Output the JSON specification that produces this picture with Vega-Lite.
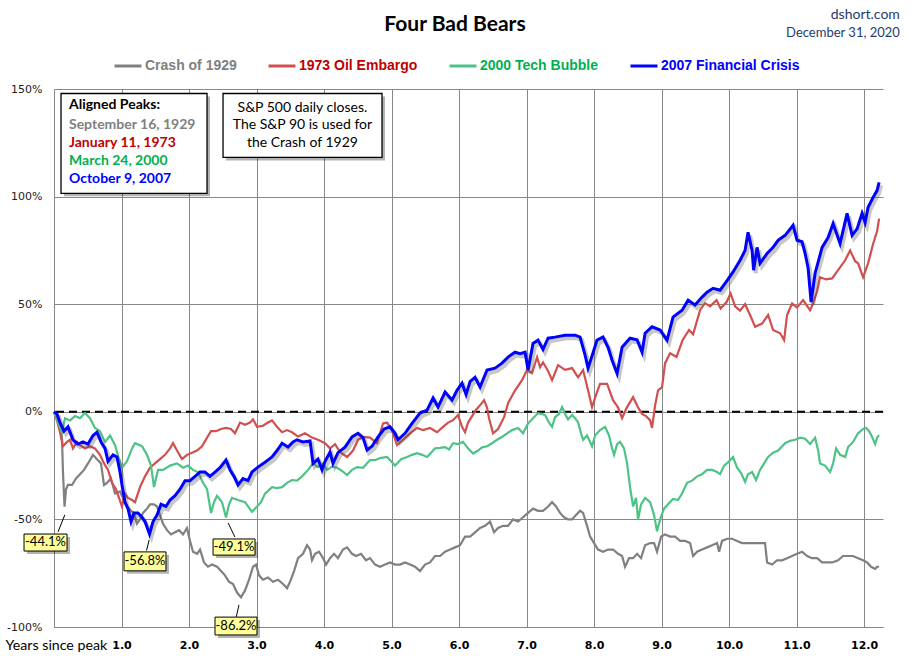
{
"$schema": "https://vega.github.io/schema/vega-lite/v6.json",
"autosize": "none",
"width": 829, "height": 538,
"padding": {"left": 54, "top": 89, "right": 27, "bottom": 34},
"background": "white",
"config": {"view": {"stroke": null}},
"data": {"values": [{}]},
"datasets": {
"g": [{"t":0,"v":0},{"t":0.059,"v":-3},{"t":0.104,"v":-8},{"t":0.119,"v":-13},{"t":0.133,"v":-28},{"t":0.156,"v":-44.1},{"t":0.178,"v":-36},{"t":0.207,"v":-34},{"t":0.267,"v":-34},{"t":0.326,"v":-31},{"t":0.385,"v":-29},{"t":0.444,"v":-27},{"t":0.504,"v":-24},{"t":0.578,"v":-20},{"t":0.637,"v":-22},{"t":0.696,"v":-24},{"t":0.741,"v":-34},{"t":0.785,"v":-33},{"t":0.844,"v":-31},{"t":0.904,"v":-38},{"t":0.978,"v":-37},{"t":1.037,"v":-41},{"t":1.081,"v":-44},{"t":1.141,"v":-46},{"t":1.185,"v":-47},{"t":1.23,"v":-52},{"t":1.274,"v":-50},{"t":1.319,"v":-47},{"t":1.378,"v":-45},{"t":1.422,"v":-43},{"t":1.481,"v":-43},{"t":1.526,"v":-44},{"t":1.57,"v":-48},{"t":1.615,"v":-52},{"t":1.674,"v":-55},{"t":1.733,"v":-57},{"t":1.793,"v":-56},{"t":1.852,"v":-55},{"t":1.911,"v":-57},{"t":1.97,"v":-54},{"t":2.015,"v":-60},{"t":2.059,"v":-65},{"t":2.119,"v":-66},{"t":2.163,"v":-64},{"t":2.222,"v":-70},{"t":2.281,"v":-72},{"t":2.341,"v":-71},{"t":2.415,"v":-72},{"t":2.474,"v":-74},{"t":2.533,"v":-76},{"t":2.593,"v":-79},{"t":2.652,"v":-80},{"t":2.711,"v":-84},{"t":2.77,"v":-86.2},{"t":2.83,"v":-83},{"t":2.889,"v":-78},{"t":2.948,"v":-72},{"t":2.993,"v":-71},{"t":3.037,"v":-76},{"t":3.096,"v":-78},{"t":3.17,"v":-77},{"t":3.244,"v":-79},{"t":3.319,"v":-78},{"t":3.393,"v":-80},{"t":3.452,"v":-82},{"t":3.496,"v":-79},{"t":3.556,"v":-74},{"t":3.615,"v":-68},{"t":3.689,"v":-66},{"t":3.748,"v":-62},{"t":3.793,"v":-64},{"t":3.822,"v":-69},{"t":3.867,"v":-66},{"t":3.926,"v":-65},{"t":3.985,"v":-68},{"t":4.03,"v":-71},{"t":4.089,"v":-68},{"t":4.148,"v":-66},{"t":4.207,"v":-68},{"t":4.281,"v":-64},{"t":4.341,"v":-63},{"t":4.415,"v":-66},{"t":4.474,"v":-67},{"t":4.548,"v":-66},{"t":4.622,"v":-69},{"t":4.681,"v":-68},{"t":4.756,"v":-71},{"t":4.83,"v":-72},{"t":4.904,"v":-71},{"t":4.978,"v":-70},{"t":5.052,"v":-71},{"t":5.126,"v":-71},{"t":5.2,"v":-70},{"t":5.274,"v":-71},{"t":5.348,"v":-72},{"t":5.422,"v":-74},{"t":5.496,"v":-71},{"t":5.57,"v":-70},{"t":5.644,"v":-67},{"t":5.719,"v":-67},{"t":5.793,"v":-65},{"t":5.867,"v":-64},{"t":5.941,"v":-63},{"t":6.015,"v":-62},{"t":6.089,"v":-58},{"t":6.163,"v":-58},{"t":6.237,"v":-56},{"t":6.311,"v":-54},{"t":6.385,"v":-53},{"t":6.459,"v":-51},{"t":6.519,"v":-56},{"t":6.578,"v":-54},{"t":6.652,"v":-53},{"t":6.726,"v":-53},{"t":6.8,"v":-50},{"t":6.874,"v":-51},{"t":6.948,"v":-49},{"t":7.022,"v":-47},{"t":7.096,"v":-45},{"t":7.17,"v":-46},{"t":7.244,"v":-46},{"t":7.319,"v":-44},{"t":7.378,"v":-42},{"t":7.437,"v":-44},{"t":7.496,"v":-47},{"t":7.556,"v":-49},{"t":7.615,"v":-50},{"t":7.674,"v":-50},{"t":7.733,"v":-48},{"t":7.793,"v":-46},{"t":7.837,"v":-47},{"t":7.896,"v":-53},{"t":7.941,"v":-58},{"t":8.0,"v":-61},{"t":8.059,"v":-64},{"t":8.133,"v":-65},{"t":8.207,"v":-64},{"t":8.281,"v":-64},{"t":8.356,"v":-66},{"t":8.415,"v":-67},{"t":8.459,"v":-72},{"t":8.519,"v":-68},{"t":8.578,"v":-68},{"t":8.637,"v":-66},{"t":8.696,"v":-68},{"t":8.756,"v":-62},{"t":8.83,"v":-61},{"t":8.889,"v":-61},{"t":8.933,"v":-65},{"t":8.993,"v":-58},{"t":9.052,"v":-57},{"t":9.126,"v":-58},{"t":9.2,"v":-58},{"t":9.274,"v":-60},{"t":9.348,"v":-60},{"t":9.422,"v":-61},{"t":9.467,"v":-67},{"t":9.526,"v":-65},{"t":9.6,"v":-64},{"t":9.674,"v":-63},{"t":9.748,"v":-62},{"t":9.822,"v":-61},{"t":9.852,"v":-65},{"t":9.896,"v":-60},{"t":9.97,"v":-59},{"t":10.044,"v":-59},{"t":10.119,"v":-60},{"t":10.193,"v":-61},{"t":10.281,"v":-61},{"t":10.37,"v":-61},{"t":10.459,"v":-61},{"t":10.533,"v":-61},{"t":10.563,"v":-70},{"t":10.637,"v":-71},{"t":10.711,"v":-69},{"t":10.785,"v":-69},{"t":10.859,"v":-68},{"t":10.933,"v":-67},{"t":11.007,"v":-66},{"t":11.081,"v":-65},{"t":11.156,"v":-67},{"t":11.23,"v":-68},{"t":11.304,"v":-68},{"t":11.378,"v":-70},{"t":11.452,"v":-70},{"t":11.526,"v":-70},{"t":11.615,"v":-69},{"t":11.689,"v":-67},{"t":11.763,"v":-67},{"t":11.837,"v":-67},{"t":11.911,"v":-68},{"t":11.985,"v":-69},{"t":12.044,"v":-70},{"t":12.104,"v":-72},{"t":12.163,"v":-73},{"t":12.193,"v":-72},{"t":12.222,"v":-72}],
"r": [{"t":0,"v":0},{"t":0.044,"v":-4},{"t":0.089,"v":-9.5},{"t":0.133,"v":-16},{"t":0.193,"v":-14},{"t":0.237,"v":-13},{"t":0.281,"v":-17},{"t":0.341,"v":-14},{"t":0.385,"v":-15.5},{"t":0.459,"v":-17},{"t":0.533,"v":-16},{"t":0.607,"v":-17},{"t":0.681,"v":-20},{"t":0.741,"v":-24},{"t":0.8,"v":-27},{"t":0.859,"v":-33},{"t":0.919,"v":-36},{"t":0.963,"v":-40},{"t":1.007,"v":-44},{"t":1.052,"v":-38},{"t":1.096,"v":-40},{"t":1.156,"v":-41},{"t":1.2,"v":-42},{"t":1.274,"v":-35},{"t":1.348,"v":-30},{"t":1.422,"v":-26},{"t":1.496,"v":-24},{"t":1.57,"v":-22},{"t":1.644,"v":-20},{"t":1.719,"v":-17},{"t":1.763,"v":-14.5},{"t":1.822,"v":-18},{"t":1.896,"v":-22},{"t":1.97,"v":-20},{"t":2.044,"v":-19},{"t":2.119,"v":-18},{"t":2.193,"v":-16},{"t":2.267,"v":-12},{"t":2.326,"v":-9},{"t":2.4,"v":-9},{"t":2.474,"v":-8},{"t":2.548,"v":-7.5},{"t":2.622,"v":-8},{"t":2.681,"v":-10},{"t":2.756,"v":-5},{"t":2.83,"v":-6},{"t":2.904,"v":-5},{"t":2.948,"v":-3.5},{"t":3.007,"v":-7},{"t":3.096,"v":-6.5},{"t":3.17,"v":-5},{"t":3.23,"v":-4},{"t":3.304,"v":-7},{"t":3.378,"v":-9.5},{"t":3.452,"v":-8.5},{"t":3.526,"v":-9.5},{"t":3.615,"v":-11.5},{"t":3.719,"v":-10},{"t":3.822,"v":-12},{"t":3.911,"v":-13},{"t":4.015,"v":-14.6},{"t":4.089,"v":-17},{"t":4.163,"v":-15},{"t":4.237,"v":-18.7},{"t":4.341,"v":-21},{"t":4.43,"v":-18},{"t":4.504,"v":-13},{"t":4.578,"v":-11.7},{"t":4.681,"v":-12},{"t":4.785,"v":-14.6},{"t":4.874,"v":-5.4},{"t":4.933,"v":-5},{"t":5.007,"v":-8.5},{"t":5.081,"v":-15.5},{"t":5.17,"v":-13},{"t":5.274,"v":-10},{"t":5.378,"v":-7.5},{"t":5.467,"v":-8.5},{"t":5.57,"v":-7.5},{"t":5.674,"v":-9.5},{"t":5.763,"v":-7},{"t":5.837,"v":-5},{"t":5.911,"v":-3.9},{"t":5.985,"v":-1.5},{"t":6.044,"v":-7},{"t":6.089,"v":-9.5},{"t":6.133,"v":-5},{"t":6.193,"v":-2},{"t":6.252,"v":1},{"t":6.311,"v":3},{"t":6.37,"v":5.4},{"t":6.415,"v":2},{"t":6.444,"v":-3},{"t":6.504,"v":-10},{"t":6.578,"v":-8},{"t":6.667,"v":-2.5},{"t":6.726,"v":4},{"t":6.83,"v":10},{"t":6.933,"v":14.7},{"t":7.007,"v":19.4},{"t":7.081,"v":18},{"t":7.156,"v":25.4},{"t":7.2,"v":20.7},{"t":7.244,"v":23},{"t":7.319,"v":19},{"t":7.378,"v":14.7},{"t":7.467,"v":21.7},{"t":7.57,"v":19.5},{"t":7.674,"v":20.3},{"t":7.763,"v":16},{"t":7.837,"v":19.4},{"t":7.911,"v":10},{"t":7.97,"v":2.2},{"t":8.03,"v":8},{"t":8.089,"v":13},{"t":8.193,"v":13},{"t":8.281,"v":5.4},{"t":8.356,"v":2},{"t":8.415,"v":-2.9},{"t":8.489,"v":2.2},{"t":8.578,"v":6.8},{"t":8.652,"v":2},{"t":8.711,"v":-1},{"t":8.77,"v":-2},{"t":8.83,"v":-4},{"t":8.859,"v":-7.5},{"t":8.904,"v":3},{"t":8.948,"v":10},{"t":9.007,"v":11.5},{"t":9.052,"v":22.6},{"t":9.126,"v":27.2},{"t":9.222,"v":25.5},{"t":9.311,"v":33.3},{"t":9.407,"v":38},{"t":9.467,"v":36},{"t":9.57,"v":47.2},{"t":9.644,"v":50.5},{"t":9.719,"v":49},{"t":9.815,"v":51.9},{"t":9.874,"v":48},{"t":9.963,"v":51},{"t":10.022,"v":55},{"t":10.089,"v":49},{"t":10.163,"v":47},{"t":10.237,"v":50},{"t":10.311,"v":45},{"t":10.385,"v":39.5},{"t":10.489,"v":41},{"t":10.578,"v":45},{"t":10.652,"v":38},{"t":10.756,"v":36.5},{"t":10.815,"v":33.3},{"t":10.859,"v":45},{"t":10.933,"v":50.3},{"t":11.007,"v":48.5},{"t":11.096,"v":51.9},{"t":11.2,"v":47.2},{"t":11.244,"v":50.3},{"t":11.304,"v":56},{"t":11.348,"v":62.5},{"t":11.437,"v":61.5},{"t":11.526,"v":62},{"t":11.615,"v":65.8},{"t":11.719,"v":70.4},{"t":11.793,"v":75},{"t":11.867,"v":70},{"t":11.911,"v":69},{"t":11.985,"v":62.5},{"t":12.059,"v":69},{"t":12.133,"v":78},{"t":12.193,"v":84},{"t":12.222,"v":89.8}],
"gr": [{"t":0,"v":0},{"t":0.059,"v":-5},{"t":0.119,"v":-9.5},{"t":0.163,"v":-3},{"t":0.237,"v":-4},{"t":0.311,"v":-2},{"t":0.385,"v":-3},{"t":0.459,"v":-0.6},{"t":0.533,"v":-3},{"t":0.607,"v":-7.5},{"t":0.681,"v":-9},{"t":0.756,"v":-14},{"t":0.83,"v":-11},{"t":0.904,"v":-15.5},{"t":0.963,"v":-22},{"t":1.007,"v":-26},{"t":1.081,"v":-23},{"t":1.156,"v":-17},{"t":1.2,"v":-14.6},{"t":1.304,"v":-16},{"t":1.378,"v":-20},{"t":1.437,"v":-25},{"t":1.481,"v":-35},{"t":1.541,"v":-27},{"t":1.615,"v":-27},{"t":1.719,"v":-25},{"t":1.822,"v":-24},{"t":1.911,"v":-26},{"t":1.985,"v":-25},{"t":2.059,"v":-27},{"t":2.133,"v":-28},{"t":2.207,"v":-33},{"t":2.267,"v":-36},{"t":2.326,"v":-47},{"t":2.37,"v":-42},{"t":2.415,"v":-39},{"t":2.489,"v":-42},{"t":2.548,"v":-49.1},{"t":2.593,"v":-43},{"t":2.637,"v":-40},{"t":2.726,"v":-41},{"t":2.83,"v":-42},{"t":2.933,"v":-46.5},{"t":3.007,"v":-44},{"t":3.067,"v":-42},{"t":3.126,"v":-38},{"t":3.23,"v":-35},{"t":3.304,"v":-35.5},{"t":3.378,"v":-35},{"t":3.452,"v":-33},{"t":3.526,"v":-31.7},{"t":3.6,"v":-32},{"t":3.674,"v":-30},{"t":3.763,"v":-27},{"t":3.837,"v":-24},{"t":3.911,"v":-25.7},{"t":3.985,"v":-24},{"t":4.044,"v":-27},{"t":4.119,"v":-25.5},{"t":4.193,"v":-26},{"t":4.267,"v":-27.5},{"t":4.341,"v":-29.4},{"t":4.415,"v":-27},{"t":4.489,"v":-25.7},{"t":4.578,"v":-26},{"t":4.681,"v":-22.4},{"t":4.756,"v":-22.5},{"t":4.83,"v":-21.5},{"t":4.933,"v":-21},{"t":4.993,"v":-23},{"t":5.052,"v":-25},{"t":5.141,"v":-22},{"t":5.23,"v":-21},{"t":5.304,"v":-20},{"t":5.378,"v":-19.2},{"t":5.452,"v":-20},{"t":5.526,"v":-21},{"t":5.585,"v":-19},{"t":5.644,"v":-17},{"t":5.719,"v":-16.8},{"t":5.793,"v":-16.4},{"t":5.852,"v":-17.5},{"t":5.911,"v":-14.6},{"t":5.985,"v":-15},{"t":6.059,"v":-14},{"t":6.133,"v":-17},{"t":6.207,"v":-19.4},{"t":6.281,"v":-18},{"t":6.341,"v":-16.5},{"t":6.415,"v":-16},{"t":6.489,"v":-14.6},{"t":6.563,"v":-13},{"t":6.637,"v":-11.7},{"t":6.711,"v":-10},{"t":6.785,"v":-8.5},{"t":6.874,"v":-7.5},{"t":6.948,"v":-10},{"t":7.022,"v":-5.4},{"t":7.096,"v":-3},{"t":7.17,"v":-0.6},{"t":7.23,"v":-1},{"t":7.274,"v":-1.5},{"t":7.333,"v":-5},{"t":7.378,"v":-7},{"t":7.422,"v":-2.5},{"t":7.481,"v":-1},{"t":7.526,"v":2.2},{"t":7.57,"v":-1},{"t":7.615,"v":-3.5},{"t":7.674,"v":-1.5},{"t":7.719,"v":-3},{"t":7.763,"v":-4.8},{"t":7.807,"v":-10},{"t":7.837,"v":-13},{"t":7.896,"v":-11},{"t":7.941,"v":-14},{"t":7.97,"v":-16},{"t":8.015,"v":-11},{"t":8.089,"v":-8.5},{"t":8.163,"v":-7},{"t":8.222,"v":-11},{"t":8.267,"v":-17},{"t":8.296,"v":-20},{"t":8.341,"v":-15},{"t":8.385,"v":-14},{"t":8.444,"v":-17},{"t":8.489,"v":-24},{"t":8.533,"v":-35},{"t":8.578,"v":-44},{"t":8.622,"v":-40},{"t":8.652,"v":-50},{"t":8.696,"v":-43},{"t":8.756,"v":-40},{"t":8.83,"v":-42},{"t":8.889,"v":-48},{"t":8.933,"v":-55.5},{"t":8.978,"v":-50},{"t":9.037,"v":-45},{"t":9.096,"v":-43},{"t":9.17,"v":-40.5},{"t":9.244,"v":-41},{"t":9.304,"v":-38},{"t":9.378,"v":-33},{"t":9.452,"v":-32},{"t":9.526,"v":-30},{"t":9.6,"v":-29},{"t":9.674,"v":-27},{"t":9.748,"v":-27},{"t":9.822,"v":-28},{"t":9.867,"v":-29},{"t":9.926,"v":-25},{"t":9.985,"v":-23.5},{"t":10.059,"v":-21},{"t":10.119,"v":-26},{"t":10.178,"v":-28.5},{"t":10.237,"v":-32.6},{"t":10.281,"v":-29},{"t":10.341,"v":-28},{"t":10.4,"v":-31.7},{"t":10.459,"v":-27},{"t":10.519,"v":-24},{"t":10.578,"v":-21},{"t":10.652,"v":-19},{"t":10.726,"v":-18},{"t":10.83,"v":-14.6},{"t":10.904,"v":-13.5},{"t":10.978,"v":-13},{"t":11.052,"v":-12},{"t":11.126,"v":-12.5},{"t":11.2,"v":-15},{"t":11.274,"v":-12},{"t":11.319,"v":-18},{"t":11.348,"v":-24},{"t":11.422,"v":-25},{"t":11.496,"v":-28},{"t":11.541,"v":-24},{"t":11.585,"v":-17},{"t":11.644,"v":-20},{"t":11.719,"v":-21},{"t":11.763,"v":-16.4},{"t":11.837,"v":-14},{"t":11.911,"v":-10},{"t":11.985,"v":-8},{"t":12.03,"v":-7.5},{"t":12.074,"v":-9},{"t":12.119,"v":-11.7},{"t":12.163,"v":-15},{"t":12.193,"v":-12},{"t":12.222,"v":-10.8}],
"b": [{"t":0,"v":0},{"t":0.044,"v":-1},{"t":0.089,"v":-5},{"t":0.148,"v":-9},{"t":0.207,"v":-7},{"t":0.281,"v":-13},{"t":0.356,"v":-15},{"t":0.43,"v":-14},{"t":0.504,"v":-15},{"t":0.578,"v":-11},{"t":0.637,"v":-9.5},{"t":0.696,"v":-14},{"t":0.756,"v":-17},{"t":0.8,"v":-23},{"t":0.874,"v":-20},{"t":0.933,"v":-21},{"t":0.978,"v":-28},{"t":1.007,"v":-34},{"t":1.052,"v":-42},{"t":1.096,"v":-45},{"t":1.141,"v":-51},{"t":1.185,"v":-47},{"t":1.244,"v":-47},{"t":1.304,"v":-49},{"t":1.348,"v":-51},{"t":1.415,"v":-56.8},{"t":1.467,"v":-51},{"t":1.526,"v":-48},{"t":1.585,"v":-43},{"t":1.659,"v":-44},{"t":1.719,"v":-41},{"t":1.793,"v":-39},{"t":1.867,"v":-36},{"t":1.941,"v":-32},{"t":2.015,"v":-32},{"t":2.089,"v":-30},{"t":2.163,"v":-28},{"t":2.237,"v":-28},{"t":2.311,"v":-30},{"t":2.385,"v":-28},{"t":2.459,"v":-26},{"t":2.548,"v":-22.4},{"t":2.607,"v":-27},{"t":2.667,"v":-30},{"t":2.726,"v":-34},{"t":2.8,"v":-31},{"t":2.874,"v":-32},{"t":2.933,"v":-28},{"t":3.022,"v":-25.7},{"t":3.126,"v":-23.4},{"t":3.23,"v":-21},{"t":3.304,"v":-18},{"t":3.378,"v":-14.6},{"t":3.467,"v":-16.4},{"t":3.541,"v":-14},{"t":3.6,"v":-13},{"t":3.689,"v":-14},{"t":3.793,"v":-13.5},{"t":3.837,"v":-24},{"t":3.911,"v":-22},{"t":3.97,"v":-27},{"t":4.015,"v":-23},{"t":4.089,"v":-18.7},{"t":4.133,"v":-24},{"t":4.207,"v":-19},{"t":4.311,"v":-16.4},{"t":4.415,"v":-11.7},{"t":4.504,"v":-10},{"t":4.578,"v":-12},{"t":4.637,"v":-17.8},{"t":4.711,"v":-16},{"t":4.8,"v":-11.7},{"t":4.889,"v":-8},{"t":4.978,"v":-7},{"t":5.052,"v":-10},{"t":5.096,"v":-13},{"t":5.2,"v":-10},{"t":5.304,"v":-5.4},{"t":5.422,"v":-0.6},{"t":5.526,"v":0.8},{"t":5.615,"v":6.4},{"t":5.689,"v":2.2},{"t":5.793,"v":9.2},{"t":5.896,"v":5.4},{"t":5.97,"v":10},{"t":6.044,"v":13.3},{"t":6.104,"v":8},{"t":6.163,"v":14},{"t":6.237,"v":16},{"t":6.311,"v":11.5},{"t":6.415,"v":19.4},{"t":6.533,"v":20.3},{"t":6.637,"v":22.6},{"t":6.726,"v":25.4},{"t":6.83,"v":27.7},{"t":6.904,"v":27},{"t":6.978,"v":27.7},{"t":7.022,"v":19.4},{"t":7.096,"v":31.8},{"t":7.17,"v":33.3},{"t":7.244,"v":29},{"t":7.319,"v":34.2},{"t":7.422,"v":34.7},{"t":7.57,"v":35.6},{"t":7.719,"v":35.6},{"t":7.793,"v":34.7},{"t":7.867,"v":26.3},{"t":7.911,"v":20.3},{"t":7.97,"v":26},{"t":8.044,"v":33.3},{"t":8.133,"v":34.7},{"t":8.207,"v":30},{"t":8.267,"v":24},{"t":8.341,"v":17.8},{"t":8.415,"v":30},{"t":8.533,"v":34.2},{"t":8.637,"v":33.5},{"t":8.711,"v":27.7},{"t":8.756,"v":36.5},{"t":8.859,"v":39.5},{"t":8.978,"v":38},{"t":9.081,"v":33.3},{"t":9.17,"v":44},{"t":9.304,"v":47.2},{"t":9.393,"v":51.9},{"t":9.496,"v":49.6},{"t":9.6,"v":53.3},{"t":9.674,"v":55.6},{"t":9.763,"v":57.4},{"t":9.867,"v":56.5},{"t":9.97,"v":61},{"t":10.059,"v":65},{"t":10.163,"v":70.4},{"t":10.237,"v":75},{"t":10.281,"v":83.4},{"t":10.341,"v":75},{"t":10.363,"v":65.8},{"t":10.415,"v":76.4},{"t":10.459,"v":69},{"t":10.563,"v":73.6},{"t":10.652,"v":76.4},{"t":10.726,"v":79.7},{"t":10.83,"v":82},{"t":10.948,"v":86.7},{"t":11.007,"v":79.7},{"t":11.081,"v":79},{"t":11.126,"v":73.6},{"t":11.17,"v":67},{"t":11.215,"v":51},{"t":11.274,"v":64.4},{"t":11.378,"v":76.4},{"t":11.467,"v":81},{"t":11.541,"v":87.5},{"t":11.644,"v":78.2},{"t":11.748,"v":92.2},{"t":11.822,"v":82},{"t":11.896,"v":85},{"t":11.97,"v":92.2},{"t":12.015,"v":88},{"t":12.059,"v":95},{"t":12.133,"v":99.6},{"t":12.193,"v":102.9},{"t":12.222,"v":106.6}]
},
"layer": [
{"mark": {"type": "rule", "color": "#000", "strokeWidth": 2, "strokeDash": [8, 5]},
 "encoding": {"y": {"datum": 0, "type": "quantitative",
   "scale": {"domain": [-100, 150], "nice": false, "zero": false},
   "axis": {"values": [-100, -50, 0, 50, 100, 150], "labelExpr": "datum.value + '%'", "title": null, "grid": true, "gridColor": "#888888", "gridWidth": 1, "domainColor": "#888888", "ticks": false, "tickSize": 0, "labelPadding": 12, "labelFont": "DejaVu Sans", "labelFontSize": 11, "labelColor": "#222222"}}}},
{"data": {"name": "g"}, "mark": {"type": "line", "strokeWidth": 2.2},
 "encoding": {
  "x": {"field": "t", "type": "quantitative", "scale": {"domain": [0, 12.28], "nice": false, "zero": false},
    "axis": {"values": [1,2,3,4,5,6,7,8,9,10,11,12], "format": ".1f", "title": "Years since peak", "grid": true, "gridColor": "#888888", "gridWidth": 1, "domainColor": "#888888", "ticks": false, "tickSize": 0, "labelFont": "DejaVu Sans", "labelFontSize": 11, "labelFontWeight": "bold", "labelColor": "#000", "labelBaseline": "middle", "labelPadding": 18, "labelFlush": false, "titleX": -49, "titleY": 18, "titleAlign": "left", "titleBaseline": "middle", "titleFont": "Lato", "titleFontSize": 14.2, "titleFontWeight": "normal", "titleColor": "#000", "titleAnchor": null}},
  "y": {"field": "v", "type": "quantitative"},
  "color": {"datum": "Crash of 1929", "type": "nominal",
    "scale": {"domain": ["Crash of 1929", "1973 Oil Embargo", "2000 Tech Bubble", "2007 Financial Crisis"], "range": ["#808080", "#d24f4f", "#4dc386", "#0000ff"]},
    "legend": {"orient": "none", "legendX": 59, "legendY": -38, "direction": "horizontal", "title": null, "padding": 0, "symbolType": "stroke", "symbolSize": 729, "symbolStrokeWidth": 3, "labelFont": "Liberation Sans", "labelFontSize": 14, "labelFontWeight": "bold", "labelOffset": 2, "columnPadding": 25,
      "labelColor": {"expr": "datum.value == 'Crash of 1929' ? '#808080' : datum.value == '1973 Oil Embargo' ? '#c00000' : datum.value == '2000 Tech Bubble' ? '#00b050' : '#0000ff'"}}}}},
{"data": {"name": "r"}, "mark": {"type": "line", "strokeWidth": 2.2},
 "encoding": {"x": {"field": "t", "type": "quantitative"}, "y": {"field": "v", "type": "quantitative"}, "color": {"datum": "1973 Oil Embargo", "type": "nominal"}}},
{"data": {"name": "gr"}, "mark": {"type": "line", "strokeWidth": 2.2},
 "encoding": {"x": {"field": "t", "type": "quantitative"}, "y": {"field": "v", "type": "quantitative"}, "color": {"datum": "2000 Tech Bubble", "type": "nominal"}}},
{"data": {"name": "b"}, "mark": {"type": "line", "strokeWidth": 4, "color": "#444444", "opacity": 0.3, "xOffset": 2, "yOffset": 3},
 "encoding": {"x": {"field": "t", "type": "quantitative"}, "y": {"field": "v", "type": "quantitative"}}},
{"data": {"name": "b"}, "mark": {"type": "line", "strokeWidth": 3},
 "encoding": {"x": {"field": "t", "type": "quantitative"}, "y": {"field": "v", "type": "quantitative"}, "color": {"datum": "2007 Financial Crisis", "type": "nominal"}}},

{"mark": {"type": "rect", "fill": "#000", "opacity": 0.3, "xOffset": 3, "x2Offset": 3, "yOffset": 3, "y2Offset": 3},
 "encoding": {"x": {"datum": 0.104}, "x2": {"datum": 2.267}, "y": {"datum": 147.9}, "y2": {"datum": 101.5}}},
{"mark": {"type": "rect", "fill": "#fff", "stroke": "#000", "strokeWidth": 1.3},
 "encoding": {"x": {"datum": 0.104}, "x2": {"datum": 2.267}, "y": {"datum": 147.9}, "y2": {"datum": 101.5}}},
{"mark": {"type": "text", "font": "Lato", "fontSize": 14, "fontWeight": "bold", "align": "left", "baseline": "middle", "color": "#000", "text": "Aligned Peaks:"},
 "encoding": {"x": {"datum": 0.222}, "y": {"datum": 142.6}}},
{"mark": {"type": "text", "font": "Lato", "fontSize": 14, "fontWeight": "bold", "align": "left", "baseline": "middle", "color": "#808080", "text": "September 16, 1929"},
 "encoding": {"x": {"datum": 0.222}, "y": {"datum": 133.4}}},
{"mark": {"type": "text", "font": "Lato", "fontSize": 14, "fontWeight": "bold", "align": "left", "baseline": "middle", "color": "#c00000", "text": "January 11, 1973"},
 "encoding": {"x": {"datum": 0.222}, "y": {"datum": 125.1}}},
{"mark": {"type": "text", "font": "Lato", "fontSize": 14, "fontWeight": "bold", "align": "left", "baseline": "middle", "color": "#00b050", "text": "March 24, 2000"},
 "encoding": {"x": {"datum": 0.222}, "y": {"datum": 116.5}}},
{"mark": {"type": "text", "font": "Lato", "fontSize": 14, "fontWeight": "bold", "align": "left", "baseline": "middle", "color": "#0000ff", "text": "October 9, 2007"},
 "encoding": {"x": {"datum": 0.222}, "y": {"datum": 108.2}}},

{"mark": {"type": "rect", "fill": "#000", "opacity": 0.3, "xOffset": 3, "x2Offset": 3, "yOffset": 3, "y2Offset": 3},
 "encoding": {"x": {"datum": 2.504}, "x2": {"datum": 4.859}, "y": {"datum": 147.9}, "y2": {"datum": 118.2}}},
{"mark": {"type": "rect", "fill": "#fff", "stroke": "#000", "strokeWidth": 1.3},
 "encoding": {"x": {"datum": 2.504}, "x2": {"datum": 4.859}, "y": {"datum": 147.9}, "y2": {"datum": 118.2}}},
{"mark": {"type": "text", "font": "Lato", "fontSize": 14, "align": "center", "baseline": "middle", "color": "#000", "text": "S&P 500 daily closes."},
 "encoding": {"x": {"datum": 3.68}, "y": {"datum": 141.3}}},
{"mark": {"type": "text", "font": "Lato", "fontSize": 14, "align": "center", "baseline": "middle", "color": "#000", "text": "The S&P 90 is used for"},
 "encoding": {"x": {"datum": 3.68}, "y": {"datum": 133.1}}},
{"mark": {"type": "text", "font": "Lato", "fontSize": 14, "align": "center", "baseline": "middle", "color": "#000", "text": "the Crash of 1929"},
 "encoding": {"x": {"datum": 3.68}, "y": {"datum": 124.9}}},

{"mark": {"type": "rule", "color": "#000", "strokeWidth": 1},
 "encoding": {"x": {"datum": 0.06}, "y": {"datum": -55.8}, "x2": {"datum": 0.16}, "y2": {"datum": -47.9}}},
{"mark": {"type": "rule", "color": "#000", "strokeWidth": 1},
 "encoding": {"x": {"datum": 1.37}, "y": {"datum": -64.5}, "x2": {"datum": 1.41}, "y2": {"datum": -59.5}}},
{"mark": {"type": "rule", "color": "#000", "strokeWidth": 1},
 "encoding": {"x": {"datum": 2.58}, "y": {"datum": -51.7}, "x2": {"datum": 2.68}, "y2": {"datum": -58.2}}},
{"mark": {"type": "rule", "color": "#000", "strokeWidth": 1},
 "encoding": {"x": {"datum": 2.74}, "y": {"datum": -89.7}, "x2": {"datum": 2.7}, "y2": {"datum": -95.3}}},

{"mark": {"type": "rect", "fill": "#000", "opacity": 0.3, "xOffset": 3, "x2Offset": 3, "yOffset": 3, "y2Offset": 3},
 "encoding": {"x": {"datum": -0.444}, "x2": {"datum": 0.193}, "y": {"datum": -56.8}, "y2": {"datum": -64.7}}},
{"mark": {"type": "rect", "fill": "#ffff99", "stroke": "#000", "strokeWidth": 1},
 "encoding": {"x": {"datum": -0.444}, "x2": {"datum": 0.193}, "y": {"datum": -56.8}, "y2": {"datum": -64.7}}},
{"mark": {"type": "text", "font": "Lato", "fontSize": 13, "align": "center", "baseline": "middle", "color": "#000", "text": "-44.1%"},
 "encoding": {"x": {"datum": -0.126}, "y": {"datum": -60.7}}},

{"mark": {"type": "rect", "fill": "#000", "opacity": 0.3, "xOffset": 3, "x2Offset": 3, "yOffset": 3, "y2Offset": 3},
 "encoding": {"x": {"datum": 1.037}, "x2": {"datum": 1.659}, "y": {"datum": -65.1}, "y2": {"datum": -73.9}}},
{"mark": {"type": "rect", "fill": "#ffff99", "stroke": "#000", "strokeWidth": 1},
 "encoding": {"x": {"datum": 1.037}, "x2": {"datum": 1.659}, "y": {"datum": -65.1}, "y2": {"datum": -73.9}}},
{"mark": {"type": "text", "font": "Lato", "fontSize": 13, "align": "center", "baseline": "middle", "color": "#000", "text": "-56.8%"},
 "encoding": {"x": {"datum": 1.348}, "y": {"datum": -69.5}}},

{"mark": {"type": "rect", "fill": "#000", "opacity": 0.3, "xOffset": 3, "x2Offset": 3, "yOffset": 3, "y2Offset": 3},
 "encoding": {"x": {"datum": 2.356}, "x2": {"datum": 2.978}, "y": {"datum": -59.1}, "y2": {"datum": -66.6}}},
{"mark": {"type": "rect", "fill": "#ffff99", "stroke": "#000", "strokeWidth": 1},
 "encoding": {"x": {"datum": 2.356}, "x2": {"datum": 2.978}, "y": {"datum": -59.1}, "y2": {"datum": -66.6}}},
{"mark": {"type": "text", "font": "Lato", "fontSize": 13, "align": "center", "baseline": "middle", "color": "#000", "text": "-49.1%"},
 "encoding": {"x": {"datum": 2.667}, "y": {"datum": -62.8}}},

{"mark": {"type": "rect", "fill": "#000", "opacity": 0.3, "xOffset": 3, "x2Offset": 3, "yOffset": 3, "y2Offset": 3},
 "encoding": {"x": {"datum": 2.385}, "x2": {"datum": 3.007}, "y": {"datum": -95.4}, "y2": {"datum": -103.7}}},
{"mark": {"type": "rect", "fill": "#ffff99", "stroke": "#000", "strokeWidth": 1},
 "encoding": {"x": {"datum": 2.385}, "x2": {"datum": 3.007}, "y": {"datum": -95.4}, "y2": {"datum": -103.7}}},
{"mark": {"type": "text", "font": "Lato", "fontSize": 13, "align": "center", "baseline": "middle", "color": "#000", "text": "-86.2%"},
 "encoding": {"x": {"datum": 2.696}, "y": {"datum": -99.5}}},

{"mark": {"type": "text", "font": "Lato", "fontSize": 21, "fontWeight": "bold", "align": "center", "baseline": "middle", "color": "#000", "text": "Four Bad Bears"},
 "encoding": {"x": {"datum": 5.94}, "y": {"datum": 179.7}}},
{"mark": {"type": "text", "font": "Lato", "fontSize": 14, "align": "right", "baseline": "middle", "color": "#1f3b6f", "text": "dshort.com"},
 "encoding": {"x": {"datum": 12.53}, "y": {"datum": 184.6}}},
{"mark": {"type": "text", "font": "Lato", "fontSize": 13, "align": "right", "baseline": "middle", "color": "#1f3b6f", "text": "December 31, 2020"},
 "encoding": {"x": {"datum": 12.53}, "y": {"datum": 175.8}}}
]
}
